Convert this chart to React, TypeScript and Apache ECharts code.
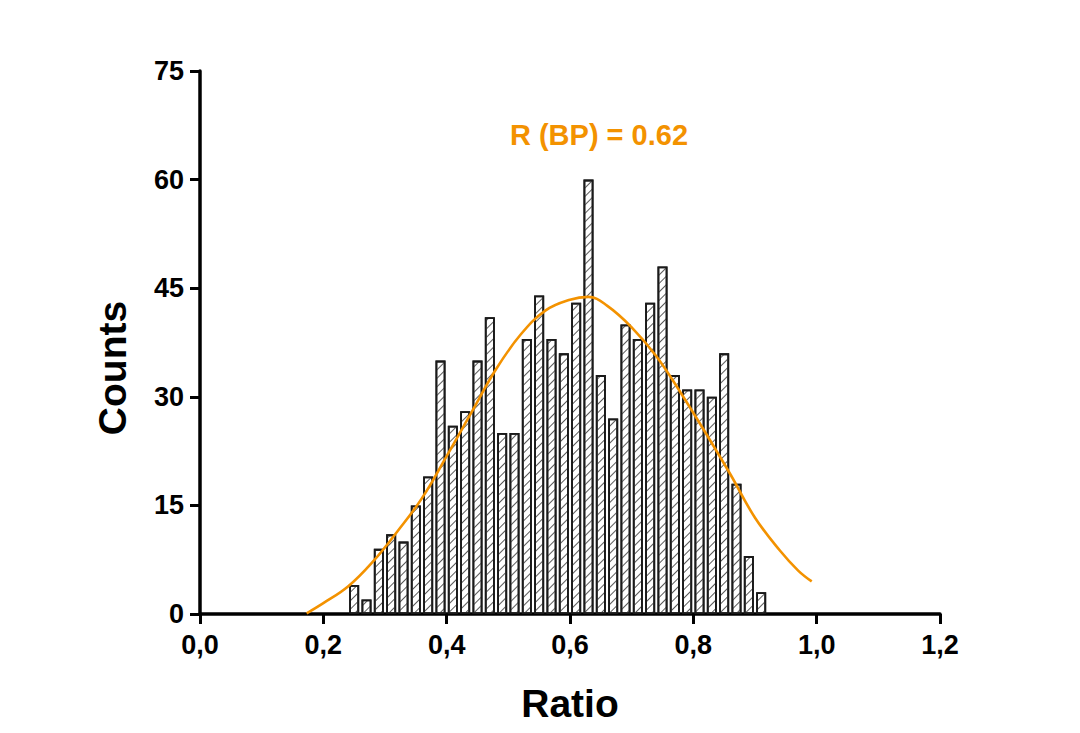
import React, { useEffect, useRef } from "react";
import * as echarts from "echarts";

// Histogram bins (centre of each 0.02-wide bin) and their counts
const binCenters = [
  0.25, 0.27, 0.29, 0.31, 0.33, 0.35, 0.37, 0.39, 0.41, 0.43, 0.45, 0.47,
  0.49, 0.51, 0.53, 0.55, 0.57, 0.59, 0.61, 0.63, 0.65, 0.67, 0.69, 0.71,
  0.73, 0.75, 0.77, 0.79, 0.81, 0.83, 0.85, 0.87, 0.89, 0.91,
];
const counts = [
  4, 2, 9, 11, 10, 15, 19, 35, 26, 28, 35, 41,
  25, 25, 38, 44, 38, 36, 43, 60, 33, 27, 40, 38,
  43, 48, 33, 31, 31, 30, 36, 18, 8, 3,
];

// Fitted curve
const curveX = [
  0.173, 0.2, 0.24, 0.28, 0.32, 0.36, 0.4, 0.44, 0.48, 0.52, 0.56, 0.6,
  0.63, 0.66, 0.7, 0.74, 0.78, 0.82, 0.86, 0.9, 0.94, 0.97, 0.992,
];
const curveY = [
  0.1, 1.5, 3.8, 7.2, 11.4, 16.0, 21.8, 27.8, 33.8, 38.6, 41.9, 43.4,
  43.8, 42.6, 39.6, 35.6, 30.5, 25.0, 19.3, 13.3, 8.8, 6.0, 4.5,
];

const yTicks = [0, 15, 30, 45, 60, 75];
const xTicks = [0, 0.2, 0.4, 0.6, 0.8, 1.0, 1.2];

const titleText = "R (BP) = 0.62";
const xName = "Ratio";
const yName = "Counts";

const FONT = "'Liberation Sans', Arial, Helvetica, sans-serif";
const ORANGE = "#F39200";

export default function App() {
  const ref = useRef<HTMLDivElement>(null);

  useEffect(() => {
    if (!ref.current) return;
    const chart = echarts.init(ref.current, undefined, { renderer: "svg" });
    const barData = binCenters.map((x, i) => [x, counts[i]]);
    const lineData = curveX.map((x, i) => [x, curveY[i]]);

    chart.setOption({
      animation: false,
      backgroundColor: "#ffffff",
      textStyle: { fontFamily: FONT },
      grid: { left: 200, right: 140, top: 71, bottom: 119, containLabel: false },
      xAxis: {
        type: "value",
        min: xTicks[0],
        max: xTicks[xTicks.length - 1],
        interval: 0.2,
        axisLine: { show: true, onZero: false, lineStyle: { color: "#000", width: 3.5 } },
        axisTick: { show: true, length: 10, lineStyle: { color: "#000", width: 3 } },
        axisLabel: {
          margin: 17,
          fontSize: 27,
          fontWeight: "bold",
          color: "#000",
          fontFamily: FONT,
          formatter: (v: number) => v.toFixed(1).replace(".", ","),
        },
        splitLine: { show: false },
      },
      yAxis: {
        type: "value",
        min: yTicks[0],
        max: yTicks[yTicks.length - 1],
        interval: 15,
        axisLine: { show: true, lineStyle: { color: "#000", width: 3.5 } },
        axisTick: { show: true, length: 10, lineStyle: { color: "#000", width: 3 } },
        axisLabel: {
          margin: 16,
          fontSize: 27,
          fontWeight: "bold",
          color: "#000",
          fontFamily: FONT,
        },
        splitLine: { show: false },
      },
      graphic: [
        {
          type: "text",
          x: 599,
          y: 135,
          style: {
            text: titleText,
            fill: ORANGE,
            font: `bold 29px ${FONT}`,
            textAlign: "center",
            textVerticalAlign: "middle",
          },
        },
        {
          type: "text",
          x: 570,
          y: 703,
          style: {
            text: xName,
            fill: "#000",
            font: `bold 39px ${FONT}`,
            textAlign: "center",
            textVerticalAlign: "middle",
          },
        },
        {
          type: "text",
          x: 112,
          y: 368,
          rotation: Math.PI / 2,
          style: {
            text: yName,
            fill: "#000",
            font: `bold 39px ${FONT}`,
            textAlign: "center",
            textVerticalAlign: "middle",
          },
        },
      ],
      series: [
        {
          type: "bar",
          data: barData,
          barWidth: 10,
          z: 2,
          itemStyle: {
            color: "#ffffff",
            borderColor: "#1a1a1a",
            borderWidth: 1.8,
            decal: {
              symbol: "rect",
              symbolSize: 1,
              color: "#5a5a5a",
              dashArrayX: [1, 0],
              dashArrayY: [1, 5],
              rotation: -Math.PI / 4,
            },
          },
        },
        {
          type: "line",
          data: lineData,
          smooth: 0.4,
          showSymbol: false,
          z: 5,
          lineStyle: { color: ORANGE, width: 2.6 },
        },
      ],
    });

    return () => chart.dispose();
  }, []);

  return (
    <div
      ref={ref}
      style={{ position: "absolute", left: 0, top: 0, width: 1080, height: 733 }}
    />
  );
}
